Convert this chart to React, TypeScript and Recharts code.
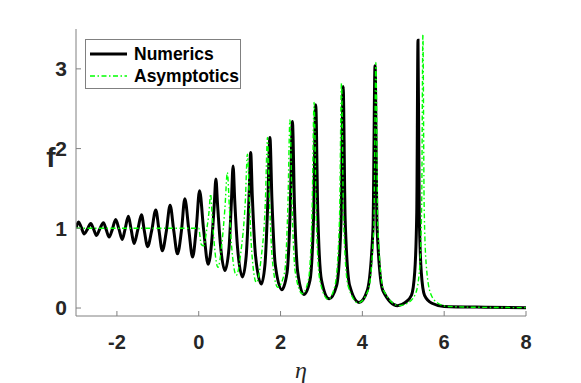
import React from 'react';
import { LineChart, Line, XAxis, YAxis, Legend } from 'recharts';

// [eta, f^2]
const numerics: [number, number][] = [
  [-3.0, 1.0], [-2.94, 1.08], [-2.87, 1.01], [-2.8, 0.93], [-2.72, 0.99], [-2.64, 1.06],
  [-2.57, 0.99], [-2.5, 0.91], [-2.42, 0.99], [-2.33, 1.07], [-2.26, 0.98], [-2.19, 0.89],
  [-2.11, 0.99], [-2.03, 1.11], [-1.95, 0.99], [-1.87, 0.86], [-1.8, 0.99], [-1.72, 1.15],
  [-1.65, 0.98], [-1.58, 0.81], [-1.49, 0.98], [-1.4, 1.17], [-1.33, 0.97], [-1.25, 0.77],
  [-1.15, 0.97], [-1.05, 1.23], [-0.97, 0.97], [-0.89, 0.72], [-0.79, 0.97], [-0.7, 1.29],
  [-0.61, 0.97], [-0.52, 0.68], [-0.42, 0.98], [-0.34, 1.37], [-0.24, 0.97], [-0.15, 0.64],
  [-0.06, 1.0], [0.02, 1.47], [0.12, 0.98], [0.23, 0.55],
  [0.32, 0.85], [0.38, 1.3], [0.42, 1.62], [0.46, 1.3], [0.53, 0.8], [0.64, 0.47],
  [0.74, 0.75], [0.8, 1.35], [0.84, 1.78], [0.88, 1.35], [0.95, 0.75], [1.07, 0.39],
  [1.16, 0.65], [1.23, 1.4], [1.27, 1.95], [1.31, 1.4], [1.39, 0.65], [1.53, 0.3],
  [1.62, 0.55], [1.69, 1.35], [1.74, 2.14], [1.79, 1.35], [1.87, 0.55], [2.03, 0.23],
  [2.16, 0.45], [2.24, 1.3], [2.29, 2.34], [2.34, 1.3], [2.42, 0.45], [2.57, 0.17],
  [2.72, 0.35], [2.81, 1.2], [2.86, 2.55], [2.91, 1.2], [3.0, 0.35], [3.19, 0.115],
  [3.37, 0.28], [3.48, 1.1], [3.53, 2.78], [3.58, 1.1], [3.69, 0.28], [3.92, 0.07],
  [4.12, 0.22], [4.26, 1.0], [4.31, 3.04], [4.36, 1.0], [4.5, 0.22], [4.86, 0.03],
  [5.05, 0.07], [5.2, 0.16], [5.28, 0.45], [5.33, 1.2], [5.36, 3.36], [5.39, 1.2],
  [5.44, 0.45], [5.52, 0.16], [5.7, 0.06], [6.0, 0.02], [7.0, 0.01], [8.0, 0.005],
];

const asymptotics: [number, number][] = [
  [-3.0, 1.0], [0.0, 1.0], [0.06, 0.8], [0.12, 0.78], [0.2, 1.0], [0.25, 1.2], [0.29, 1.43],
  [0.33, 1.15], [0.38, 0.8], [0.47, 0.51],
  [0.56, 0.78], [0.64, 1.25], [0.7, 1.7], [0.75, 1.25], [0.8, 0.8], [0.92, 0.41],
  [1.03, 0.7], [1.14, 1.35], [1.19, 1.93], [1.24, 1.35], [1.29, 0.75], [1.41, 0.32],
  [1.52, 0.6], [1.63, 1.35], [1.68, 2.14], [1.73, 1.35], [1.8, 0.6], [1.93, 0.26],
  [2.1, 0.45], [2.18, 1.3], [2.23, 2.36], [2.28, 1.3], [2.36, 0.45], [2.53, 0.18],
  [2.68, 0.35], [2.77, 1.2], [2.82, 2.58], [2.87, 1.2], [2.96, 0.35], [3.16, 0.11],
  [3.33, 0.28], [3.44, 1.1], [3.49, 2.82], [3.54, 1.1], [3.65, 0.28], [3.9, 0.065],
  [4.14, 0.22], [4.28, 1.0], [4.33, 3.08], [4.38, 1.0], [4.52, 0.22], [4.9, 0.03],
  [5.1, 0.06], [5.3, 0.18], [5.4, 0.5], [5.45, 1.3], [5.48, 3.43], [5.51, 1.3],
  [5.56, 0.55], [5.67, 0.18], [5.85, 0.06], [6.1, 0.02], [7.0, 0.008], [8.0, 0.005],
];

const xTicks = [-2, 0, 2, 4, 6, 8];
const yTicks = [0, 1, 2, 3];

const FONT = '"Liberation Sans", Arial, sans-serif';
const AXIS = '#808080';
const GREEN = '#00ff00';

const toRows = (pts: [number, number][]) => pts.map(([x, y]) => ({ x, y }));

function LegendBox() {
  const row = (label: string, color: string, width: number, dash?: string) => (
    <div style={{ display: 'flex', alignItems: 'center', height: 22 }}>
      <svg width={40} height={10} style={{ marginRight: 6 }}>
        <line x1={2} y1={5} x2={39} y2={5} stroke={color} strokeWidth={width} strokeDasharray={dash} />
      </svg>
      <span style={{ fontFamily: FONT, fontWeight: 'bold', fontSize: 17.5, color: '#000' }}>{label}</span>
    </div>
  );
  return (
    <div style={{ border: `1px solid ${AXIS}`, background: '#fff', width: 156, height: 50, padding: '3px 0 0 2px', boxSizing: 'border-box' }}>
      {row('Numerics', '#000', 3)}
      {row('Asymptotics', GREEN, 1.4, '5 2.5 1.5 2.5')}
    </div>
  );
}

export default function App() {
  return (
    <div style={{ position: 'absolute', left: 0, top: 0, background: '#fff' }}>
      <LineChart width={581} height={383} margin={{ top: 29, right: 55, bottom: 0, left: 0 }}>
        <XAxis
          dataKey="x"
          type="number"
          domain={[-3, 8]}
          ticks={xTicks}
          allowDataOverflow
          height={67}
          stroke={AXIS}
          tickSize={-5}
          tickMargin={24}
          tick={{ fill: '#262626', fontFamily: FONT, fontWeight: 'bold', fontSize: 20 }}
          label={{ value: 'η', position: 'insideBottom', offset: 5, style: { fontFamily: '"Liberation Serif", serif', fontStyle: 'italic', fontSize: 24, fill: '#262626' } }}
        />
        <XAxis xAxisId="top" orientation="top" type="number" domain={[-3, 8]} ticks={xTicks} height={0} stroke={AXIS} tickSize={-5} tick={false} />
        <YAxis
          type="number"
          domain={[-0.1, 3.5]}
          ticks={yTicks}
          allowDataOverflow
          width={76}
          stroke={AXIS}
          tickSize={-5}
          tickMargin={14}
          tick={{ fill: '#262626', fontFamily: FONT, fontWeight: 'bold', fontSize: 21 }}
          label={{
            content: () => (
              <text x={51} y={167} textAnchor="middle" fontFamily={FONT} fontWeight="bold" fontSize={28} fill="#262626">f</text>
            ),
          }}
        />
        <YAxis yAxisId="right" orientation="right" type="number" domain={[-0.1, 3.5]} ticks={yTicks} width={0} stroke={AXIS} tickSize={-5} tick={false} />
        <Legend
          layout="vertical"
          align="center"
          verticalAlign="middle"
          content={() => <LegendBox />}
          wrapperStyle={{ left: 85, top: 39, width: 156, height: 50 }}
        />
        <Line data={toRows(numerics)} dataKey="y" type="monotone" stroke="#000" strokeWidth={3} dot={false} isAnimationActive={false} />
        <Line data={toRows(asymptotics)} dataKey="y" type="monotone" stroke={GREEN} strokeWidth={1.4} strokeDasharray="5 2.5 1.5 2.5" dot={false} isAnimationActive={false} />
      </LineChart>
    </div>
  );
}
